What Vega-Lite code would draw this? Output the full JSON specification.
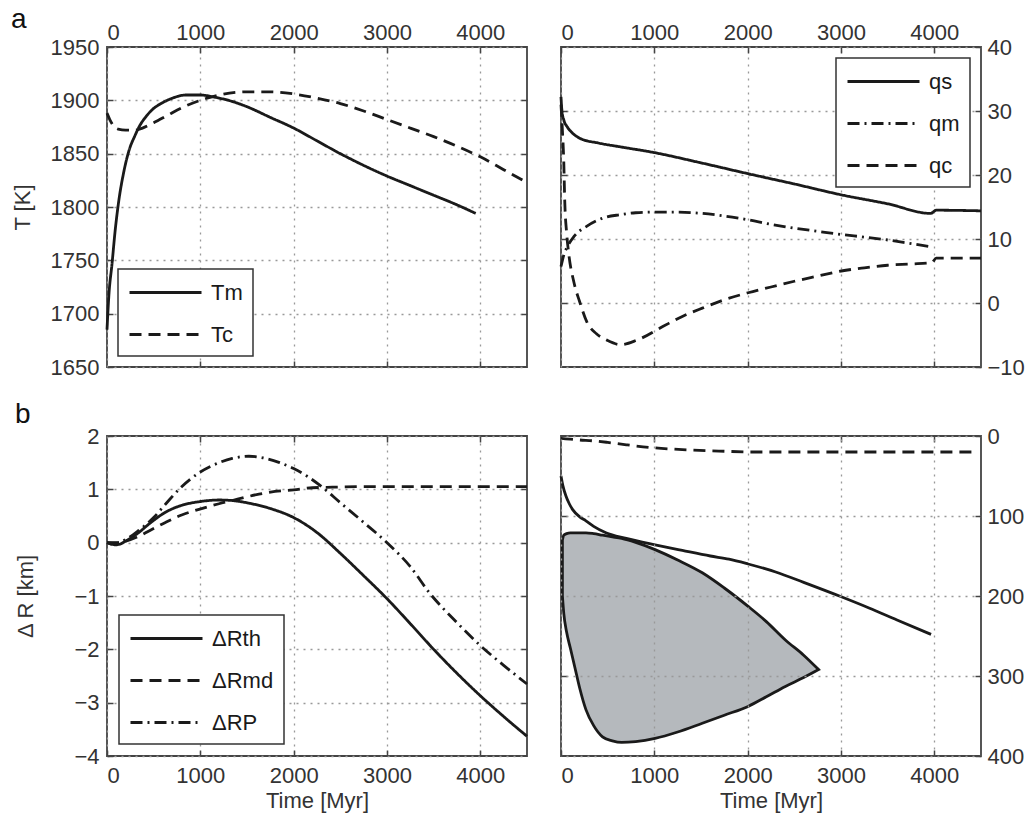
{
  "$schema": "https://vega.github.io/schema/vega-lite/v6.json",
  "background": "white",
  "padding": {"left": 10, "top": 5, "right": 0, "bottom": 5},
  "config": {
    "font": "Liberation Sans",
    "view": {"stroke": "#444", "strokeWidth": 1.8},
    "axis": {
      "labelFont": "Liberation Sans", "labelFontSize": 22, "labelColor": "#333", "format": "d",
      "titleFont": "Liberation Sans", "titleFontSize": 22, "titleFontWeight": "normal", "titleColor": "#333",
      "domain": false, "ticks": true, "tickSize": -6, "tickColor": "#444", "tickWidth": 1.5,
      "grid": true, "gridColor": "#999", "gridDash": [2, 5], "gridWidth": 1.3
    },
    "axisLeft": {"labelPadding": 14},
    "axisRight": {"labelPadding": 12},
    "axisTop": {"labelPadding": 9},
    "axisBottom": {"labelPadding": 15, "titlePadding": 4},
    "legend": {
      "labelFont": "Liberation Sans", "labelFontSize": 22, "labelColor": "#1a1a1a",
      "strokeColor": "#333", "strokeWidth": 1.5, "fillColor": "white", "padding": 10,
      "symbolType": "M-3,0L3,0", "symbolSize": 576, "symbolStrokeWidth": 2.8, "symbolStrokeColor": "#1a1a1a",
      "symbolOffset": 24, "labelOffset": 32, "rowPadding": 17, "title": null
    },
    "title": {"font": "Liberation Sans", "fontSize": 28, "fontWeight": "normal", "color": "#111", "anchor": "start", "frame": "bounds"}
  },
  "columns": 2,
  "spacing": {"row": 69, "column": 34},
  "bounds": "flush",
  "resolve": {
    "scale": {"x": "independent", "y": "independent", "strokeDash": "independent"},
    "legend": {"strokeDash": "independent"}
  },
  "datasets": {
    "tl": [
      {"t": 0, "T": 1685, "s": "Tm"}, {"t": 20, "T": 1717, "s": "Tm"}, {"t": 54, "T": 1747, "s": "Tm"},
      {"t": 90, "T": 1780, "s": "Tm"}, {"t": 125, "T": 1805, "s": "Tm"}, {"t": 180, "T": 1833, "s": "Tm"},
      {"t": 236, "T": 1853, "s": "Tm"}, {"t": 300, "T": 1867, "s": "Tm"}, {"t": 343, "T": 1875, "s": "Tm"},
      {"t": 420, "T": 1885, "s": "Tm"}, {"t": 482, "T": 1891, "s": "Tm"}, {"t": 600, "T": 1898, "s": "Tm"},
      {"t": 700, "T": 1902, "s": "Tm"}, {"t": 850, "T": 1905, "s": "Tm"}, {"t": 1000, "T": 1905, "s": "Tm"},
      {"t": 1150, "T": 1903, "s": "Tm"}, {"t": 1340, "T": 1899, "s": "Tm"}, {"t": 1500, "T": 1894, "s": "Tm"},
      {"t": 1750, "T": 1884, "s": "Tm"}, {"t": 2000, "T": 1874, "s": "Tm"}, {"t": 2250, "T": 1862, "s": "Tm"},
      {"t": 2500, "T": 1850, "s": "Tm"}, {"t": 2750, "T": 1839, "s": "Tm"}, {"t": 3000, "T": 1829, "s": "Tm"},
      {"t": 3250, "T": 1820, "s": "Tm"}, {"t": 3500, "T": 1811, "s": "Tm"}, {"t": 3750, "T": 1802, "s": "Tm"},
      {"t": 3950, "T": 1794, "s": "Tm"},
      {"t": 0, "T": 1888, "s": "Tc"}, {"t": 30, "T": 1882, "s": "Tc"}, {"t": 70, "T": 1876, "s": "Tc"},
      {"t": 120, "T": 1873, "s": "Tc"}, {"t": 200, "T": 1872, "s": "Tc"}, {"t": 300, "T": 1872, "s": "Tc"},
      {"t": 380, "T": 1874, "s": "Tc"}, {"t": 500, "T": 1879, "s": "Tc"}, {"t": 650, "T": 1886, "s": "Tc"},
      {"t": 800, "T": 1893, "s": "Tc"}, {"t": 1000, "T": 1900, "s": "Tc"}, {"t": 1200, "T": 1905, "s": "Tc"},
      {"t": 1500, "T": 1908, "s": "Tc"}, {"t": 1750, "T": 1908, "s": "Tc"}, {"t": 2000, "T": 1906, "s": "Tc"},
      {"t": 2250, "T": 1902, "s": "Tc"}, {"t": 2500, "T": 1897, "s": "Tc"}, {"t": 2750, "T": 1890, "s": "Tc"},
      {"t": 3000, "T": 1882, "s": "Tc"}, {"t": 3250, "T": 1874, "s": "Tc"}, {"t": 3500, "T": 1866, "s": "Tc"},
      {"t": 3750, "T": 1857, "s": "Tc"}, {"t": 4000, "T": 1847, "s": "Tc"}, {"t": 4250, "T": 1835, "s": "Tc"},
      {"t": 4500, "T": 1823, "s": "Tc"}
    ],
    "tr": [
      {"t": 0, "q": 32.2, "s": "qs"}, {"t": 10, "q": 30.0, "s": "qs"}, {"t": 30, "q": 28.6, "s": "qs"},
      {"t": 68, "q": 27.5, "s": "qs"}, {"t": 120, "q": 26.6, "s": "qs"}, {"t": 207, "q": 25.7, "s": "qs"},
      {"t": 400, "q": 25.0, "s": "qs"}, {"t": 634, "q": 24.4, "s": "qs"}, {"t": 1000, "q": 23.5, "s": "qs"},
      {"t": 1500, "q": 21.9, "s": "qs"}, {"t": 2005, "q": 20.2, "s": "qs"}, {"t": 2500, "q": 18.6, "s": "qs"},
      {"t": 3003, "q": 16.9, "s": "qs"}, {"t": 3500, "q": 15.5, "s": "qs"}, {"t": 3960, "q": 14.0, "s": "qs"},
      {"t": 4020, "q": 14.5, "s": "qs"}, {"t": 4500, "q": 14.4, "s": "qs"},
      {"t": 0, "q": 5.7, "s": "qm"}, {"t": 30, "q": 7.5, "s": "qm"}, {"t": 68, "q": 8.8, "s": "qm"},
      {"t": 139, "q": 10.4, "s": "qm"}, {"t": 278, "q": 12.0, "s": "qm"}, {"t": 456, "q": 13.3, "s": "qm"},
      {"t": 634, "q": 13.8, "s": "qm"}, {"t": 800, "q": 14.1, "s": "qm"}, {"t": 1000, "q": 14.2, "s": "qm"},
      {"t": 1250, "q": 14.2, "s": "qm"}, {"t": 1514, "q": 14.0, "s": "qm"}, {"t": 1750, "q": 13.6, "s": "qm"},
      {"t": 2005, "q": 13.0, "s": "qm"}, {"t": 2250, "q": 12.3, "s": "qm"}, {"t": 2500, "q": 11.7, "s": "qm"},
      {"t": 2750, "q": 11.2, "s": "qm"}, {"t": 3003, "q": 10.7, "s": "qm"}, {"t": 3250, "q": 10.3, "s": "qm"},
      {"t": 3473, "q": 9.9, "s": "qm"}, {"t": 3700, "q": 9.4, "s": "qm"}, {"t": 3954, "q": 8.8, "s": "qm"},
      {"t": 0, "q": 31.0, "s": "qc"}, {"t": 15, "q": 27.0, "s": "qc"}, {"t": 30, "q": 22.0, "s": "qc"},
      {"t": 40, "q": 16.0, "s": "qc"}, {"t": 60, "q": 11.0, "s": "qc"}, {"t": 82, "q": 7.8, "s": "qc"},
      {"t": 139, "q": 3.2, "s": "qc"}, {"t": 200, "q": 0.2, "s": "qc"}, {"t": 278, "q": -3.0, "s": "qc"},
      {"t": 380, "q": -4.8, "s": "qc"}, {"t": 492, "q": -5.8, "s": "qc"}, {"t": 638, "q": -6.5, "s": "qc"},
      {"t": 813, "q": -5.8, "s": "qc"}, {"t": 1100, "q": -3.6, "s": "qc"}, {"t": 1300, "q": -2.1, "s": "qc"},
      {"t": 1514, "q": -0.8, "s": "qc"}, {"t": 1750, "q": 0.5, "s": "qc"}, {"t": 2005, "q": 1.6, "s": "qc"},
      {"t": 2250, "q": 2.5, "s": "qc"}, {"t": 2500, "q": 3.4, "s": "qc"}, {"t": 2750, "q": 4.2, "s": "qc"},
      {"t": 3003, "q": 5.0, "s": "qc"}, {"t": 3250, "q": 5.5, "s": "qc"}, {"t": 3500, "q": 5.9, "s": "qc"},
      {"t": 3750, "q": 6.1, "s": "qc"}, {"t": 3972, "q": 6.3, "s": "qc"}, {"t": 4020, "q": 7.0, "s": "qc"},
      {"t": 4500, "q": 7.0, "s": "qc"}
    ],
    "bl": [
      {"t": 0, "r": 0, "s": "ΔRth"}, {"t": 50, "r": -0.03, "s": "ΔRth"}, {"t": 100, "r": -0.04, "s": "ΔRth"},
      {"t": 150, "r": -0.02, "s": "ΔRth"}, {"t": 200, "r": 0.03, "s": "ΔRth"}, {"t": 340, "r": 0.19, "s": "ΔRth"},
      {"t": 450, "r": 0.35, "s": "ΔRth"}, {"t": 626, "r": 0.57, "s": "ΔRth"}, {"t": 800, "r": 0.7, "s": "ΔRth"},
      {"t": 995, "r": 0.77, "s": "ΔRth"}, {"t": 1200, "r": 0.8, "s": "ΔRth"}, {"t": 1342, "r": 0.79, "s": "ΔRth"},
      {"t": 1522, "r": 0.74, "s": "ΔRth"}, {"t": 1750, "r": 0.64, "s": "ΔRth"}, {"t": 2000, "r": 0.47, "s": "ΔRth"},
      {"t": 2250, "r": 0.19, "s": "ΔRth"}, {"t": 2500, "r": -0.2, "s": "ΔRth"}, {"t": 2750, "r": -0.62, "s": "ΔRth"},
      {"t": 3000, "r": -1.05, "s": "ΔRth"}, {"t": 3250, "r": -1.52, "s": "ΔRth"}, {"t": 3500, "r": -2.0, "s": "ΔRth"},
      {"t": 3750, "r": -2.45, "s": "ΔRth"}, {"t": 4000, "r": -2.87, "s": "ΔRth"}, {"t": 4250, "r": -3.26, "s": "ΔRth"},
      {"t": 4500, "r": -3.63, "s": "ΔRth"},
      {"t": 0, "r": 0, "s": "ΔRmd"}, {"t": 100, "r": 0, "s": "ΔRmd"}, {"t": 200, "r": 0.03, "s": "ΔRmd"},
      {"t": 340, "r": 0.12, "s": "ΔRmd"}, {"t": 450, "r": 0.22, "s": "ΔRmd"}, {"t": 626, "r": 0.38, "s": "ΔRmd"},
      {"t": 800, "r": 0.52, "s": "ΔRmd"}, {"t": 995, "r": 0.63, "s": "ΔRmd"}, {"t": 1200, "r": 0.73, "s": "ΔRmd"},
      {"t": 1342, "r": 0.79, "s": "ΔRmd"}, {"t": 1500, "r": 0.86, "s": "ΔRmd"}, {"t": 1628, "r": 0.91, "s": "ΔRmd"},
      {"t": 1800, "r": 0.96, "s": "ΔRmd"}, {"t": 2000, "r": 0.99, "s": "ΔRmd"}, {"t": 2200, "r": 1.03, "s": "ΔRmd"},
      {"t": 2415, "r": 1.04, "s": "ΔRmd"}, {"t": 2700, "r": 1.05, "s": "ΔRmd"}, {"t": 4500, "r": 1.05, "s": "ΔRmd"},
      {"t": 0, "r": 0, "s": "ΔRP"}, {"t": 100, "r": -0.01, "s": "ΔRP"}, {"t": 200, "r": 0.06, "s": "ΔRP"},
      {"t": 340, "r": 0.23, "s": "ΔRP"}, {"t": 500, "r": 0.47, "s": "ΔRP"}, {"t": 626, "r": 0.72, "s": "ΔRP"},
      {"t": 800, "r": 1.05, "s": "ΔRP"}, {"t": 995, "r": 1.32, "s": "ΔRP"}, {"t": 1200, "r": 1.5, "s": "ΔRP"},
      {"t": 1342, "r": 1.58, "s": "ΔRP"}, {"t": 1520, "r": 1.62, "s": "ΔRP"}, {"t": 1700, "r": 1.58, "s": "ΔRP"},
      {"t": 1850, "r": 1.5, "s": "ΔRP"}, {"t": 2000, "r": 1.39, "s": "ΔRP"}, {"t": 2150, "r": 1.24, "s": "ΔRP"},
      {"t": 2293, "r": 1.06, "s": "ΔRP"}, {"t": 2500, "r": 0.75, "s": "ΔRP"},
      {"t": 2750, "r": 0.38, "s": "ΔRP"}, {"t": 3000, "r": 0.0, "s": "ΔRP"}, {"t": 3250, "r": -0.45, "s": "ΔRP"},
      {"t": 3450, "r": -0.93, "s": "ΔRP"}, {"t": 3750, "r": -1.5, "s": "ΔRP"}, {"t": 4000, "r": -1.93, "s": "ΔRP"},
      {"t": 4250, "r": -2.3, "s": "ΔRP"}, {"t": 4500, "r": -2.65, "s": "ΔRP"}
    ],
    "melt": [
      {"t": 15, "top": 130, "bottom": 200}, {"t": 30, "top": 124, "bottom": 222}, {"t": 60, "top": 122, "bottom": 245},
      {"t": 100, "top": 121, "bottom": 265}, {"t": 150, "top": 121, "bottom": 290}, {"t": 200, "top": 121, "bottom": 315},
      {"t": 267, "top": 121, "bottom": 342}, {"t": 350, "top": 122, "bottom": 362}, {"t": 445, "top": 124, "bottom": 376},
      {"t": 550, "top": 126, "bottom": 381}, {"t": 650, "top": 128, "bottom": 383}, {"t": 800, "top": 133, "bottom": 382},
      {"t": 1008, "top": 142, "bottom": 378}, {"t": 1250, "top": 155, "bottom": 370}, {"t": 1514, "top": 171, "bottom": 359},
      {"t": 1750, "top": 190, "bottom": 349}, {"t": 2005, "top": 213, "bottom": 338}, {"t": 2200, "top": 232, "bottom": 326},
      {"t": 2404, "top": 255, "bottom": 313}, {"t": 2600, "top": 274, "bottom": 302}, {"t": 2760, "top": 292, "bottom": 292}
    ],
    "crust": [
      {"t": 0, "d": 3}, {"t": 100, "d": 4}, {"t": 200, "d": 5}, {"t": 338, "d": 6}, {"t": 500, "d": 8},
      {"t": 700, "d": 11}, {"t": 980, "d": 14.6}, {"t": 1300, "d": 17}, {"t": 1692, "d": 18.8}, {"t": 2048, "d": 20},
      {"t": 3000, "d": 20}, {"t": 4450, "d": 20}
    ],
    "lith": [
      {"t": 0, "d": 50}, {"t": 20, "d": 62}, {"t": 53, "d": 75}, {"t": 90, "d": 85}, {"t": 125, "d": 92},
      {"t": 200, "d": 101}, {"t": 267, "d": 106}, {"t": 350, "d": 113}, {"t": 481, "d": 121}, {"t": 700, "d": 128},
      {"t": 1008, "d": 136}, {"t": 1300, "d": 143}, {"t": 1600, "d": 150}, {"t": 1800, "d": 154}, {"t": 2005, "d": 160},
      {"t": 2300, "d": 170}, {"t": 2600, "d": 183}, {"t": 3003, "d": 201}, {"t": 3300, "d": 215}, {"t": 3600, "d": 230},
      {"t": 3965, "d": 248}
    ]
  },
  "concat": [
    {
      "title": {"text": "a", "offset": -13},
      "width": 420, "height": 320,
      "data": {"name": "tl"},
      "resolve": {"axis": {"x": "independent", "y": "independent"}},
      "layer": [
        {
          "mark": {"type": "line", "strokeWidth": 2.8, "color": "#1a1a1a", "interpolate": "monotone"},
          "encoding": {
            "x": {"field": "t", "type": "quantitative", "scale": {"domain": [0, 4500], "nice": false},
                  "axis": {"orient": "top", "values": [0, 1000, 2000, 3000, 4000], "title": null}},
            "y": {"field": "T", "type": "quantitative", "scale": {"domain": [1650, 1950], "nice": false, "zero": false},
                  "axis": {"values": [1650, 1700, 1750, 1800, 1850, 1900, 1950], "title": "T [K]", "titlePadding": 16}},
            "strokeDash": {"field": "s", "type": "nominal",
                           "scale": {"domain": ["Tm", "Tc"], "range": [[1, 0], [12, 7]]},
                           "legend": {"orient": "bottom-left", "offset": 11}}
          }
        },
        {
          "mark": {"type": "line", "opacity": 0},
          "encoding": {
            "x": {"field": "t", "type": "quantitative",
                  "axis": {"orient": "bottom", "values": [1000, 2000, 3000, 4000], "title": null, "labels": false, "grid": false}},
            "y": {"field": "T", "type": "quantitative",
                  "axis": {"orient": "right", "values": [1700, 1750, 1800, 1850, 1900], "title": null, "labels": false, "grid": false}},
            "detail": {"field": "s"}
          }
        }
      ]
    },
    {
      "width": 420, "height": 320,
      "data": {"name": "tr"},
      "resolve": {"axis": {"x": "independent", "y": "independent"}},
      "layer": [
        {
          "mark": {"type": "line", "strokeWidth": 2.8, "color": "#1a1a1a", "interpolate": "monotone"},
          "encoding": {
            "x": {"field": "t", "type": "quantitative", "scale": {"domain": [0, 4500], "nice": false},
                  "axis": {"orient": "top", "values": [0, 1000, 2000, 3000, 4000], "title": null}},
            "y": {"field": "q", "type": "quantitative", "scale": {"domain": [-10, 40], "nice": false},
                  "axis": {"orient": "right", "values": [-10, 0, 10, 20, 30, 40], "title": null}},
            "strokeDash": {"field": "s", "type": "nominal",
                           "scale": {"domain": ["qs", "qm", "qc"], "range": [[1, 0], [12, 5, 2, 5], [12, 7]]},
                           "legend": {"orient": "top-right", "offset": 11}}
          }
        },
        {
          "mark": {"type": "line", "opacity": 0},
          "encoding": {
            "x": {"field": "t", "type": "quantitative",
                  "axis": {"orient": "bottom", "values": [1000, 2000, 3000, 4000], "title": null, "labels": false, "grid": false}},
            "y": {"field": "q", "type": "quantitative",
                  "axis": {"orient": "left", "values": [0, 10, 20, 30], "title": null, "labels": false, "grid": false}},
            "detail": {"field": "s"}
          }
        }
      ]
    },
    {
      "title": {"text": "b", "offset": -4},
      "width": 420, "height": 320,
      "data": {"name": "bl"},
      "resolve": {"axis": {"x": "independent", "y": "independent"}},
      "layer": [
        {
          "mark": {"type": "line", "strokeWidth": 2.8, "color": "#1a1a1a", "interpolate": "monotone"},
          "encoding": {
            "x": {"field": "t", "type": "quantitative", "scale": {"domain": [0, 4500], "nice": false},
                  "axis": {"orient": "bottom", "values": [0, 1000, 2000, 3000, 4000], "title": "Time [Myr]"}},
            "y": {"field": "r", "type": "quantitative", "scale": {"domain": [-4, 2], "nice": false},
                  "axis": {"values": [-4, -3, -2, -1, 0, 1, 2], "title": "Δ R [km]", "titlePadding": 36}},
            "strokeDash": {"field": "s", "type": "nominal",
                           "scale": {"domain": ["ΔRth", "ΔRmd", "ΔRP"], "range": [[1, 0], [12, 7], [12, 5, 2, 5]]},
                           "legend": {"orient": "bottom-left", "offset": 12}}
          }
        },
        {
          "mark": {"type": "line", "opacity": 0},
          "encoding": {
            "x": {"field": "t", "type": "quantitative",
                  "axis": {"orient": "top", "values": [1000, 2000, 3000, 4000], "title": null, "labels": false, "grid": false}},
            "y": {"field": "r", "type": "quantitative",
                  "axis": {"orient": "right", "values": [-3, -2, -1, 0, 1], "title": null, "labels": false, "grid": false}},
            "detail": {"field": "s"}
          }
        }
      ]
    },
    {
      "width": 420, "height": 320,
      "resolve": {"axis": {"x": "independent", "y": "independent"}},
      "layer": [
        {
          "data": {"name": "melt"},
          "mark": {"type": "area", "fill": "#b5b9bd", "stroke": "#1a1a1a", "strokeWidth": 2.8, "fillOpacity": 1, "interpolate": "monotone"},
          "encoding": {
            "x": {"field": "t", "type": "quantitative", "scale": {"domain": [0, 4500], "nice": false},
                  "axis": {"orient": "bottom", "values": [0, 1000, 2000, 3000, 4000], "title": "Time [Myr]", "zindex": 1}},
            "y": {"field": "top", "type": "quantitative", "scale": {"domain": [0, 400], "nice": false, "reverse": true},
                  "axis": {"orient": "right", "values": [0, 100, 200, 300, 400], "title": null, "zindex": 1}},
            "y2": {"field": "bottom"}
          }
        },
        {
          "data": {"name": "crust"},
          "mark": {"type": "line", "strokeWidth": 2.8, "color": "#1a1a1a", "strokeDash": [12, 7], "interpolate": "monotone"},
          "encoding": {
            "x": {"field": "t", "type": "quantitative", "axis": null},
            "y": {"field": "d", "type": "quantitative", "axis": null}
          }
        },
        {
          "data": {"name": "lith"},
          "mark": {"type": "line", "strokeWidth": 2.8, "color": "#1a1a1a", "interpolate": "monotone"},
          "encoding": {
            "x": {"field": "t", "type": "quantitative",
                  "axis": {"orient": "top", "values": [1000, 2000, 3000, 4000], "title": null, "labels": false, "grid": false}},
            "y": {"field": "d", "type": "quantitative",
                  "axis": {"orient": "left", "values": [100, 200, 300], "title": null, "labels": false, "grid": false}}
          }
        }
      ]
    }
  ]
}
